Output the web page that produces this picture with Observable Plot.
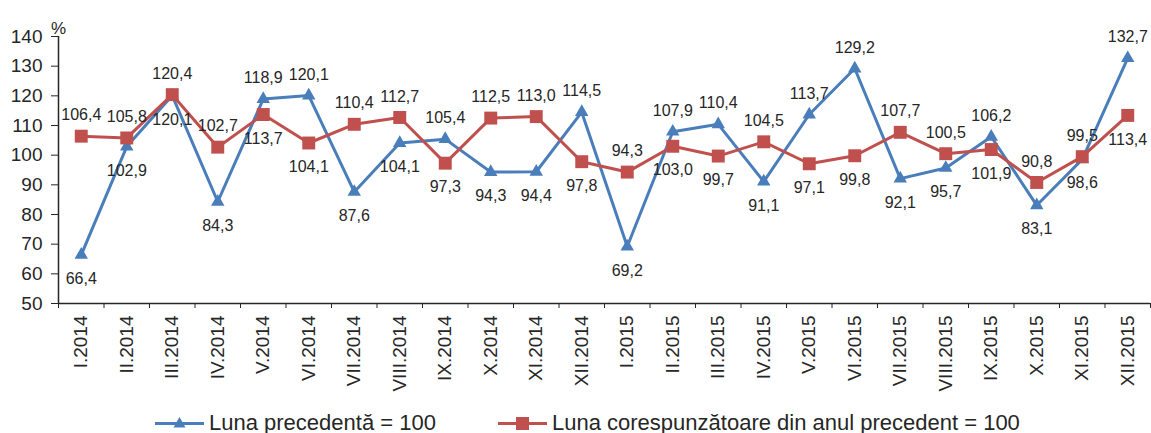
<!DOCTYPE html>
<html>
<head>
<meta charset="utf-8">
<script src="https://cdn.jsdelivr.net/npm/d3@7"></script>
<script src="https://cdn.jsdelivr.net/npm/@observablehq/plot@0.6"></script>
<style>
  html, body { margin: 0; padding: 0; background: #fff; overflow: hidden; }
  body { width: 1151px; height: 433px; font-family: "Liberation Sans", Arial, sans-serif; color: #262626; }
  #chart svg { display: block; }
  #legend { position: relative; height: 34px; font-size: 22px; }
  .item { position: absolute; top: 0; height: 34px; display: flex; align-items: center; white-space: nowrap; }
  .item svg { display: block; margin-right: 5px; }
</style>
</head>
<body>
<div id="chart"></div>
<div id="legend"></div>
<script>
const categories = ["I.2014","II.2014","III.2014","IV.2014","V.2014","VI.2014","VII.2014","VIII.2014","IX.2014","X.2014","XI.2014","XII.2014",
  "I.2015","II.2015","III.2015","IV.2015","V.2015","VI.2015","VII.2015","VIII.2015","IX.2015","X.2015","XI.2015","XII.2015"];
const lunaPrecedenta = [66.4,102.9,120.1,84.3,118.9,120.1,87.6,104.1,105.4,94.3,94.4,114.5,
  69.2,107.9,110.4,91.1,113.7,129.2,92.1,95.7,106.2,83.1,98.6,132.7];
const lunaCorespunzatoare = [106.4,105.8,120.4,102.7,113.7,104.1,110.4,112.7,97.3,112.5,113.0,97.8,
  94.3,103.0,99.7,104.5,97.1,99.8,107.7,100.5,101.9,90.8,99.5,113.4];
const yTicks = [50,60,70,80,90,100,110,120,130,140];
const seriesNames = ["Luna precedentă = 100", "Luna corespunzătoare din anul precedent = 100"];

const BLUE = "#4a7ebb", RED = "#c0504d", INK = "#262626";
const fmt = v => v.toFixed(1).replace(".", ",");

const blue = categories.map((c, i) => ({i, c, v: lunaPrecedenta[i], above: lunaPrecedenta[i] > lunaCorespunzatoare[i]}));
const red = categories.map((c, i) => ({i, c, v: lunaCorespunzatoare[i], above: lunaCorespunzatoare[i] >= lunaPrecedenta[i]}));
const labels = blue.concat(red);
const idx = categories.map((c, i) => i);
const bounds = d3.range(-0.5, categories.length, 1);

const chart = Plot.plot({
  width: 1151,
  height: 406,
  marginLeft: 58,
  marginRight: 1,
  marginTop: 36,
  marginBottom: 103,
  style: {fontFamily: '"Liberation Sans", Arial, sans-serif', fontSize: "19px", color: INK, background: "#fff"},
  x: {type: "linear", domain: [-0.5, categories.length - 0.5]},
  y: {domain: [50, 140]},
  marks: [
    Plot.axisY({ticks: yTicks, tickSize: 7, tickPadding: 9, tickFormat: d => d, label: null, stroke: INK}),
    Plot.axisX(bounds, {tickSize: 5, tickFormat: () => "", label: null, stroke: INK}),
    Plot.axisX(idx, {tickSize: 0, tickPadding: 12, tickRotate: -90, tickFormat: i => categories[i], label: null}),
    Plot.ruleX([-0.5], {stroke: INK, strokeWidth: 1.5}),
    Plot.ruleY([50], {stroke: INK, strokeWidth: 1.5}),
    Plot.text(["%"], {frameAnchor: "top-left", dy: -15, fontSize: 17, textAnchor: "middle"}),
    Plot.line(blue, {x: "i", y: "v", stroke: BLUE, strokeWidth: 3}),
    Plot.dot(blue, {x: "i", y: "v", symbol: "triangle", r: 5, fill: BLUE}),
    Plot.line(red, {x: "i", y: "v", stroke: RED, strokeWidth: 3}),
    Plot.dot(red, {x: "i", y: "v", symbol: "square", r: 7.3, fill: RED}),
    Plot.text(labels.filter(d => d.above), {x: "i", y: "v", text: d => fmt(d.v), dy: -21, fontSize: 16, fill: INK}),
    Plot.text(labels.filter(d => !d.above), {x: "i", y: "v", text: d => fmt(d.v), dy: 24, fontSize: 16, fill: INK})
  ]
});
document.getElementById("chart").appendChild(chart);

// legend
const legend = document.getElementById("legend");
const items = [
  {name: seriesNames[0], color: BLUE, shape: "tri", left: 155},
  {name: seriesNames[1], color: RED, shape: "sq", left: 498}
];
for (const it of items) {
  const div = document.createElement("div");
  div.className = "item";
  div.style.left = it.left + "px";
  const marker = it.shape === "tri"
    ? `<path d="M24.5,4 L30.5,14.5 L18.5,14.5 Z" fill="${it.color}"/>`
    : `<rect x="18" y="4" width="13" height="13" fill="${it.color}"/>`;
  div.innerHTML = `<svg width="49" height="20"><line x1="0" x2="49" y1="10.5" y2="10.5" stroke="${it.color}" stroke-width="3"/>${marker}</svg><span></span>`;
  div.querySelector("span").textContent = it.name;
  legend.appendChild(div);
}
</script>
</body>
</html>
